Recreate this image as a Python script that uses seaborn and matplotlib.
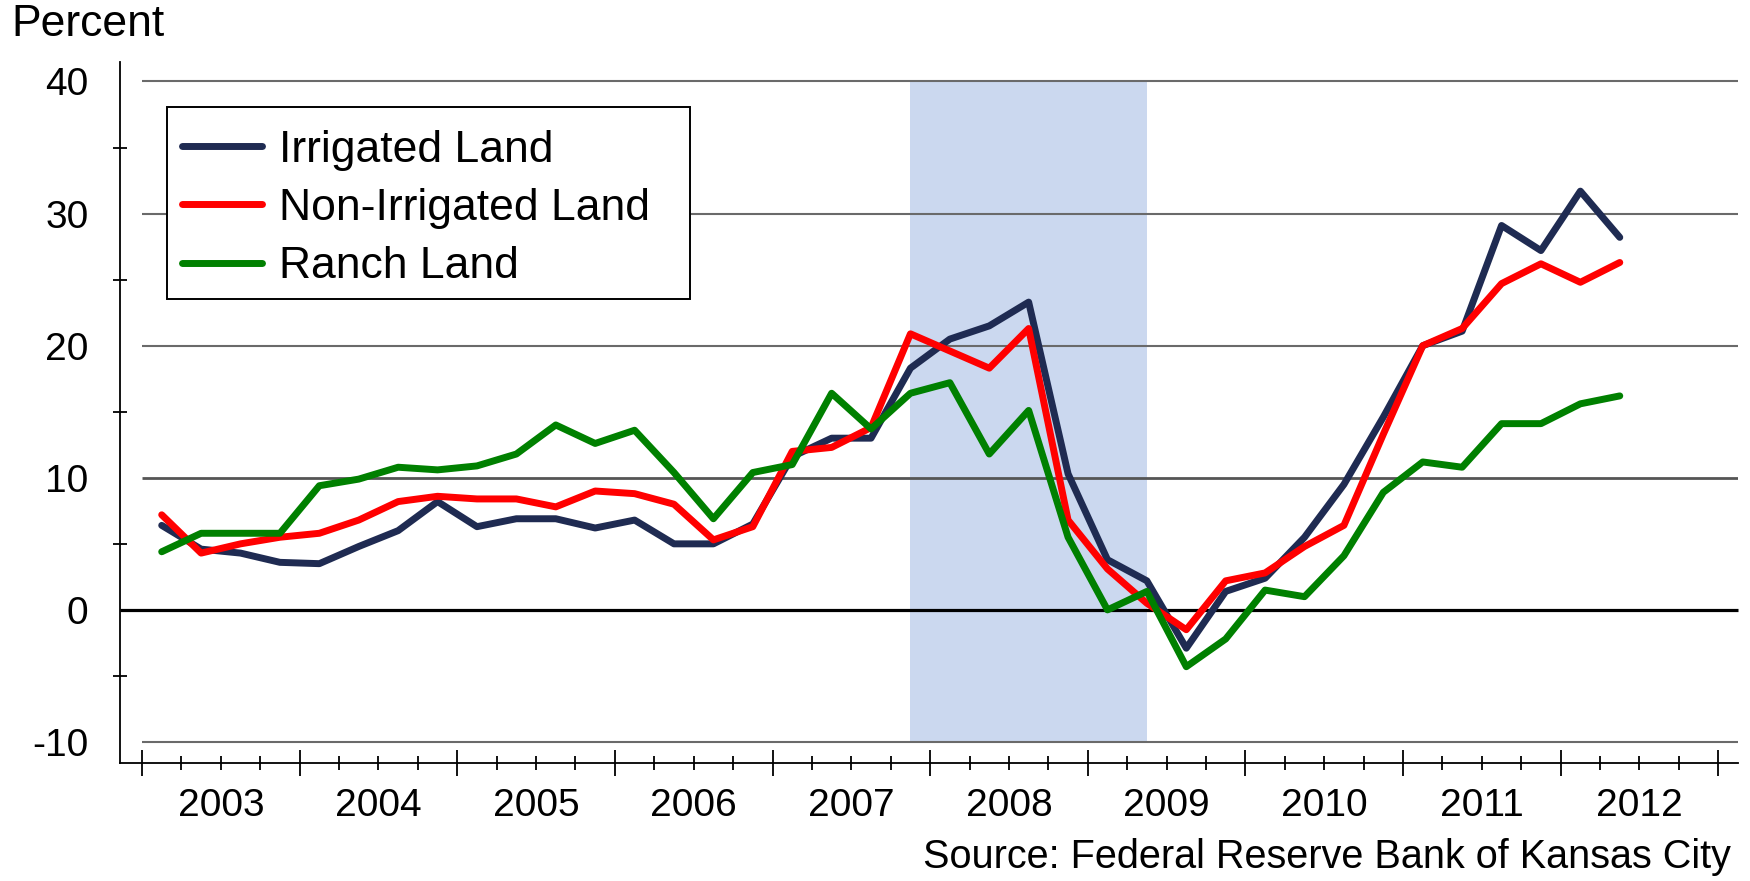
import numpy as np
import pandas as pd
import matplotlib.pyplot as plt
import seaborn as sns
from matplotlib.patches import Rectangle

# quarterly % change in land values, 2003Q1 - 2012Q2
years = [2003, 2004, 2005, 2006, 2007, 2008, 2009, 2010, 2011, 2012]
irrigated = [6.4, 4.6, 4.3, 3.6, 3.5, 4.8, 6.0, 8.2, 6.3, 6.9, 6.9, 6.2, 6.8, 5.0,
             5.0, 6.5, 11.6, 13.0, 13.0, 18.3, 20.5, 21.5, 23.3, 10.3, 3.8, 2.2,
             -2.9, 1.4, 2.4, 5.5, 9.5, 14.6, 20.0, 21.1, 29.1, 27.2, 31.7, 28.2]
non_irrigated = [7.2, 4.3, 5.0, 5.5, 5.8, 6.8, 8.2, 8.6, 8.4, 8.4, 7.8, 9.0, 8.8, 8.0,
                 5.3, 6.3, 12.0, 12.3, 13.8, 20.9, 19.6, 18.3, 21.3, 6.8, 3.1, 0.5,
                 -1.5, 2.2, 2.8, 4.8, 6.4, 13.3, 20.0, 21.3, 24.7, 26.2, 24.8, 26.3]
ranch = [4.4, 5.8, 5.8, 5.8, 9.4, 9.9, 10.8, 10.6, 10.9, 11.8, 14.0, 12.6, 13.6, 10.4,
         6.9, 10.4, 11.0, 16.4, 13.7, 16.4, 17.2, 11.8, 15.1, 5.5, 0.0, 1.4,
         -4.3, -2.2, 1.5, 1.0, 4.1, 8.9, 11.2, 10.8, 14.1, 14.1, 15.6, 16.2]
series_names = ["Irrigated Land", "Non-Irrigated Land", "Ranch Land"]
colors = ["#1f2b52", "#ff0000", "#008000"]
recession = (19, 25)  # 2007Q4 .. 2009Q2 (quarter index)

df = pd.DataFrame({"quarter": np.arange(len(irrigated)),
                   "Irrigated Land": irrigated,
                   "Non-Irrigated Land": non_irrigated,
                   "Ranch Land": ranch})
df = df.melt(id_vars="quarter", var_name="series", value_name="pct")

sns.set_theme(style="white")
plt.rcParams["font.family"] = ["Liberation Sans", "DejaVu Sans"]
plt.rcParams["text.color"] = "black"

W, H = 1750, 881
fig = plt.figure(figsize=(W / 100, H / 100), dpi=100)
ax = fig.add_axes([142 / W, (H - 742) / H, (1738 - 142) / W, (742 - 81.5) / H])
ax.set_xlim(-0.5, 40.0)
ax.set_ylim(-10, 40)

# recession shading
ax.axvspan(recession[0], recession[1], color="#cbd8ef", lw=0, zorder=0)

# gridlines
ax.hlines([-10, 20, 30, 40], -0.5, 40.0, colors="#6a6a6a", lw=1.5, zorder=1,
          clip_on=False)
ax.hlines(10, -0.5, 40.0, colors="#555555", lw=2, zorder=1)
ax.hlines(0, -1.05, 40.0, colors="black", lw=2.3, zorder=2, clip_on=False)

sns.lineplot(data=df, x="quarter", y="pct", hue="series", hue_order=series_names,
             palette=colors, linewidth=5, ax=ax, zorder=3)

# axes
for s in ["top", "right"]:
    ax.spines[s].set_visible(False)
ax.spines["left"].set_position(("outward", 15.5))
ax.spines["bottom"].set_position(("outward", 15))
ax.spines["left"].set_bounds(-11.6, 41.5)
ax.spines["bottom"].set_bounds(-1.05, 40.0)
for s in ["left", "bottom"]:
    ax.spines[s].set_color("black")
    ax.spines[s].set_linewidth(1.3)

ax.set_yticks(range(-10, 41, 10))
ax.set_yticks([-5, 5, 15, 25, 35], minor=True)
ax.set_yticklabels([str(v) for v in range(-10, 41, 10)])
ax.tick_params(axis="y", which="major", direction="inout", length=18, width=1.3,
               pad=14, labelsize=28, colors="black")
ax.tick_params(axis="y", which="minor", direction="inout", length=10, width=1.3,
               left=True, colors="black")

major_x = np.arange(-0.5, 40, 4)
minor_x = [v for v in np.arange(-0.5, 40, 1) if v not in major_x]
ax.set_xticks(major_x)
ax.set_xticks(minor_x, minor=True)
ax.set_xticklabels([])
ax.tick_params(axis="x", which="major", direction="inout", length=19, width=1.3,
               bottom=True, colors="black")
ax.tick_params(axis="x", which="minor", direction="inout", length=10, width=1.3,
               bottom=True, colors="black")
for k, yr in enumerate(years):
    ax.text(1.5 + 4 * k, -0.097, str(yr), transform=ax.get_xaxis_transform(),
            ha="center", va="center", fontsize=28, color="black")

ax.set_xlabel("")
ax.set_ylabel("")

# legend with a fixed white box behind it
ax.add_patch(Rectangle((167 / W, 1 - 299 / H), 523 / W, 192 / H,
                       transform=fig.transFigure, facecolor="white",
                       edgecolor="black", lw=1.4, zorder=4, clip_on=False))
leg = ax.legend(loc="upper left", bbox_to_anchor=(167 / W, 1 - 115 / H),
                bbox_transform=fig.transFigure, borderaxespad=0, fontsize=32,
                frameon=False, handlelength=1.8, handletextpad=0.4,
                labelspacing=0.39, borderpad=0.33, title=None)
leg.set_zorder(6)
for line in leg.get_lines():
    line.set_linewidth(5)

fig.text(11 / W, 1 - 25 / H, "Percent", ha="left", va="center", fontsize=32)
fig.text(1731 / W, 1 - 857 / H, "Source: Federal Reserve Bank of Kansas City",
         ha="right", va="center", fontsize=28.5)

fig.savefig("out.png", dpi=100)
